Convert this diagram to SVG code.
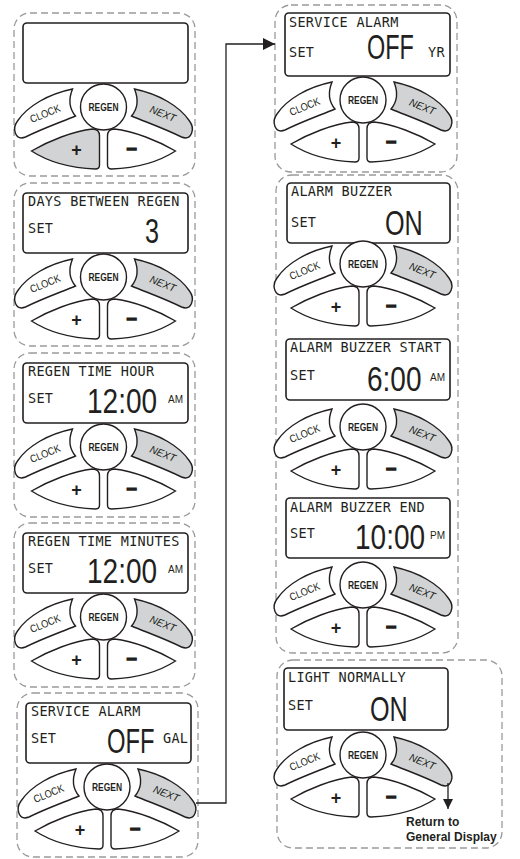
<svg xmlns="http://www.w3.org/2000/svg" width="520" height="859" viewBox="0 0 520 859">
<style>
.frame{fill:none;stroke:#9a9a9a;stroke-width:1.3;stroke-dasharray:7 4}
.disp{fill:#fff;stroke:#231f20;stroke-width:1.6}
.btn{fill:#fff;stroke:#231f20;stroke-width:1.4}
.grey{fill:#d1d3d4}
.lcd{font-family:"DejaVu Sans Mono",monospace;font-size:13.5px;letter-spacing:0.3px;fill:#231f20}
.big{font-family:"Liberation Sans",Arial,sans-serif;font-size:35px;fill:#231f20}
.sm{font-family:"Liberation Sans",Arial,sans-serif;font-size:10px;fill:#231f20}
.regen{font-family:"Liberation Sans",Arial,sans-serif;font-size:11px;font-weight:bold;fill:#231f20}
.clk{font-family:"Liberation Sans",Arial,sans-serif;font-size:10.5px;fill:#231f20}
.nxt{font-family:"Liberation Sans",Arial,sans-serif;font-size:10.5px;font-style:italic;fill:#231f20}
.pm{font-family:"Liberation Sans",Arial,sans-serif;font-size:18px;font-weight:bold;fill:#231f20;text-anchor:middle}
.mn{font-family:"Liberation Sans",Arial,sans-serif;font-size:18px;font-weight:bold;fill:#231f20;stroke:#231f20;stroke-width:1.3;text-anchor:middle}
.conn{fill:none;stroke:#231f20;stroke-width:1.3}
.ret{font-family:"Liberation Sans",Arial,sans-serif;font-size:12px;font-weight:bold;fill:#231f20}
</style>
<defs>
<marker id="ah" viewBox="0 0 12 12" refX="12" refY="6" markerWidth="12" markerHeight="12" markerUnits="userSpaceOnUse" orient="auto">
<path d="M0,0 L12,6 L0,12 Z" fill="#231f20"/>
</marker>
<marker id="ah2" viewBox="0 0 10 10" refX="10" refY="5" markerWidth="10" markerHeight="10" markerUnits="userSpaceOnUse" orient="auto">
<path d="M0,0 L10,5 L0,10 Z" fill="#231f20"/>
</marker>
<path id="clkShape" d="M-31,-18 C-35,-8 -34,2 -28,9 C-45,16 -62,22 -78,30 C-88,34 -92,22 -86,14 C-76,-1 -55,-13 -31,-18 Z"/>
<path id="nxtShape" d="M31,-18 C35,-8 34,2 28,9 C45,16 62,22 78,30 C88,34 92,22 86,14 C76,-1 55,-13 31,-18 Z"/>
<path id="plusShape" d="M-72,44 C-55,34 -30,24 -11,22 Q-4,22 -4,29 L-4,58 Q-4,62 -8,62 C-35,61 -55,55 -72,44 Z"/>
<path id="minusShape" d="M72,44 C55,34 30,24 11,22 Q4,22 4,29 L4,58 Q4,62 8,62 C35,61 55,55 72,44 Z"/>
</defs>

<!-- LEFT COLUMN -->
<g id="panel1">
<rect class="frame" x="14" y="13" width="181" height="163" rx="16"/>
<rect class="disp" x="23" y="23" width="165" height="60" rx="4"/>
<g transform="translate(103.5,107)">
<use href="#clkShape" class="btn"/><use href="#nxtShape" class="btn grey"/><circle class="btn" r="23"/>
<use href="#plusShape" class="btn grey"/><use href="#minusShape" class="btn"/>
<text class="regen" y="4" text-anchor="middle" textLength="30" lengthAdjust="spacingAndGlyphs">REGEN</text>
<text class="clk" transform="translate(-57,10) rotate(-22)" text-anchor="middle" textLength="32" lengthAdjust="spacingAndGlyphs">CLOCK</text>
<text class="nxt" transform="translate(58,10) rotate(22)" text-anchor="middle" textLength="27" lengthAdjust="spacingAndGlyphs">NEXT</text>
<text class="pm" x="-27" y="49">+</text><text class="mn" x="28" y="48">−</text>
</g>
</g>

<g id="panel2">
<rect class="frame" x="14" y="183" width="181" height="163" rx="16"/>
<rect class="disp" x="23" y="193" width="165" height="60" rx="4"/>
<text class="lcd" x="28" y="206">DAYS BETWEEN REGEN</text>
<text class="lcd" x="28" y="233">SET</text>
<text class="big" transform="translate(159,243) scale(0.72,1)" text-anchor="end">3</text>
<g transform="translate(103.5,277)">
<use href="#clkShape" class="btn"/><use href="#nxtShape" class="btn grey"/><circle class="btn" r="23"/>
<use href="#plusShape" class="btn"/><use href="#minusShape" class="btn"/>
<text class="regen" y="4" text-anchor="middle" textLength="30" lengthAdjust="spacingAndGlyphs">REGEN</text>
<text class="clk" transform="translate(-57,10) rotate(-22)" text-anchor="middle" textLength="32" lengthAdjust="spacingAndGlyphs">CLOCK</text>
<text class="nxt" transform="translate(58,10) rotate(22)" text-anchor="middle" textLength="27" lengthAdjust="spacingAndGlyphs">NEXT</text>
<text class="pm" x="-27" y="49">+</text><text class="mn" x="28" y="48">−</text>
</g>
</g>

<g id="panel3">
<rect class="frame" x="14" y="353" width="181" height="164" rx="16"/>
<rect class="disp" x="23" y="363" width="165" height="60" rx="4"/>
<text class="lcd" x="28" y="376">REGEN TIME HOUR</text>
<text class="lcd" x="28" y="403">SET</text>
<text class="big" transform="translate(87,413) scale(0.8,1)">12:00</text>
<text class="sm" x="168" y="403">AM</text>
<g transform="translate(103.5,447)">
<use href="#clkShape" class="btn"/><use href="#nxtShape" class="btn grey"/><circle class="btn" r="23"/>
<use href="#plusShape" class="btn"/><use href="#minusShape" class="btn"/>
<text class="regen" y="4" text-anchor="middle" textLength="30" lengthAdjust="spacingAndGlyphs">REGEN</text>
<text class="clk" transform="translate(-57,10) rotate(-22)" text-anchor="middle" textLength="32" lengthAdjust="spacingAndGlyphs">CLOCK</text>
<text class="nxt" transform="translate(58,10) rotate(22)" text-anchor="middle" textLength="27" lengthAdjust="spacingAndGlyphs">NEXT</text>
<text class="pm" x="-27" y="49">+</text><text class="mn" x="28" y="48">−</text>
</g>
</g>

<g id="panel4">
<rect class="frame" x="14" y="523" width="181" height="164" rx="16"/>
<rect class="disp" x="23" y="533" width="165" height="60" rx="4"/>
<text class="lcd" x="28" y="546">REGEN TIME MINUTES</text>
<text class="lcd" x="28" y="573">SET</text>
<text class="big" transform="translate(87,583) scale(0.8,1)">12:00</text>
<text class="sm" x="168" y="573">AM</text>
<g transform="translate(103.5,617)">
<use href="#clkShape" class="btn"/><use href="#nxtShape" class="btn grey"/><circle class="btn" r="23"/>
<use href="#plusShape" class="btn"/><use href="#minusShape" class="btn"/>
<text class="regen" y="4" text-anchor="middle" textLength="30" lengthAdjust="spacingAndGlyphs">REGEN</text>
<text class="clk" transform="translate(-57,10) rotate(-22)" text-anchor="middle" textLength="32" lengthAdjust="spacingAndGlyphs">CLOCK</text>
<text class="nxt" transform="translate(58,10) rotate(22)" text-anchor="middle" textLength="27" lengthAdjust="spacingAndGlyphs">NEXT</text>
<text class="pm" x="-27" y="49">+</text><text class="mn" x="28" y="48">−</text>
</g>
</g>

<g id="panel5">
<rect class="frame" x="17" y="693" width="181" height="164" rx="16"/>
<rect class="disp" x="26" y="703" width="165" height="60" rx="4"/>
<text class="lcd" x="31" y="716">SERVICE ALARM</text>
<text class="lcd" x="31" y="743">SET</text>
<text class="big" transform="translate(107,753) scale(0.68,1)">OFF</text>
<text class="lcd" x="163" y="743">GAL</text>
<g transform="translate(107,787)">
<use href="#clkShape" class="btn"/><use href="#nxtShape" class="btn grey"/><circle class="btn" r="23"/>
<use href="#plusShape" class="btn"/><use href="#minusShape" class="btn"/>
<text class="regen" y="4" text-anchor="middle" textLength="30" lengthAdjust="spacingAndGlyphs">REGEN</text>
<text class="clk" transform="translate(-57,10) rotate(-22)" text-anchor="middle" textLength="32" lengthAdjust="spacingAndGlyphs">CLOCK</text>
<text class="nxt" transform="translate(58,10) rotate(22)" text-anchor="middle" textLength="27" lengthAdjust="spacingAndGlyphs">NEXT</text>
<text class="pm" x="-27" y="49">+</text><text class="mn" x="28" y="48">−</text>
</g>
</g>

<!-- RIGHT COLUMN -->
<g id="panel6">
<rect class="frame" x="275" y="5" width="182" height="167" rx="16"/>
<rect class="disp" x="285" y="13" width="165" height="63" rx="4"/>
<text class="lcd" x="289" y="27">SERVICE ALARM</text>
<text class="lcd" x="289" y="57">SET</text>
<text class="big" transform="translate(367,59) scale(0.67,1)">OFF</text>
<text class="lcd" x="428" y="57">YR</text>
<g transform="translate(363,100)">
<use href="#clkShape" class="btn"/><use href="#nxtShape" class="btn grey"/><circle class="btn" r="23"/>
<use href="#plusShape" class="btn"/><use href="#minusShape" class="btn"/>
<text class="regen" y="4" text-anchor="middle" textLength="30" lengthAdjust="spacingAndGlyphs">REGEN</text>
<text class="clk" transform="translate(-57,10) rotate(-22)" text-anchor="middle" textLength="32" lengthAdjust="spacingAndGlyphs">CLOCK</text>
<text class="nxt" transform="translate(58,10) rotate(22)" text-anchor="middle" textLength="27" lengthAdjust="spacingAndGlyphs">NEXT</text>
<text class="pm" x="-27" y="49">+</text><text class="mn" x="28" y="48">−</text>
</g>
</g>

<g id="panel7">
<rect class="frame" x="276" y="175" width="182" height="478" rx="16"/>
<g id="alarm-buzzer">
<rect class="disp" x="287" y="183" width="163" height="60" rx="4"/>
<text class="lcd" x="291" y="196">ALARM BUZZER</text>
<text class="lcd" x="291" y="227">SET</text>
<text class="big" transform="translate(385,235) scale(0.72,1)">ON</text>
<g transform="translate(363,264)">
<use href="#clkShape" class="btn"/><use href="#nxtShape" class="btn grey"/><circle class="btn" r="23"/>
<use href="#plusShape" class="btn"/><use href="#minusShape" class="btn"/>
<text class="regen" y="4" text-anchor="middle" textLength="30" lengthAdjust="spacingAndGlyphs">REGEN</text>
<text class="clk" transform="translate(-57,10) rotate(-22)" text-anchor="middle" textLength="32" lengthAdjust="spacingAndGlyphs">CLOCK</text>
<text class="nxt" transform="translate(58,10) rotate(22)" text-anchor="middle" textLength="27" lengthAdjust="spacingAndGlyphs">NEXT</text>
<text class="pm" x="-27" y="49">+</text><text class="mn" x="28" y="48">−</text>
</g>
</g>
<g id="alarm-buzzer-start">
<rect class="disp" x="286" y="339" width="164" height="61" rx="4"/>
<text class="lcd" x="290" y="352">ALARM BUZZER START</text>
<text class="lcd" x="290" y="380">SET</text>
<text class="big" transform="translate(367,391) scale(0.8,1)">6:00</text>
<text class="sm" x="430" y="381">AM</text>
<g transform="translate(363,427)">
<use href="#clkShape" class="btn"/><use href="#nxtShape" class="btn grey"/><circle class="btn" r="23"/>
<use href="#plusShape" class="btn"/><use href="#minusShape" class="btn"/>
<text class="regen" y="4" text-anchor="middle" textLength="30" lengthAdjust="spacingAndGlyphs">REGEN</text>
<text class="clk" transform="translate(-57,10) rotate(-22)" text-anchor="middle" textLength="32" lengthAdjust="spacingAndGlyphs">CLOCK</text>
<text class="nxt" transform="translate(58,10) rotate(22)" text-anchor="middle" textLength="27" lengthAdjust="spacingAndGlyphs">NEXT</text>
<text class="pm" x="-27" y="49">+</text><text class="mn" x="28" y="48">−</text>
</g>
</g>
<g id="alarm-buzzer-end">
<rect class="disp" x="286" y="498" width="164" height="60" rx="4"/>
<text class="lcd" x="290" y="512">ALARM BUZZER END</text>
<text class="lcd" x="290" y="538">SET</text>
<text class="big" transform="translate(355,549) scale(0.8,1)">10:00</text>
<text class="sm" x="430" y="539">PM</text>
<g transform="translate(363,585)">
<use href="#clkShape" class="btn"/><use href="#nxtShape" class="btn grey"/><circle class="btn" r="23"/>
<use href="#plusShape" class="btn"/><use href="#minusShape" class="btn"/>
<text class="regen" y="4" text-anchor="middle" textLength="30" lengthAdjust="spacingAndGlyphs">REGEN</text>
<text class="clk" transform="translate(-57,10) rotate(-22)" text-anchor="middle" textLength="32" lengthAdjust="spacingAndGlyphs">CLOCK</text>
<text class="nxt" transform="translate(58,10) rotate(22)" text-anchor="middle" textLength="27" lengthAdjust="spacingAndGlyphs">NEXT</text>
<text class="pm" x="-27" y="49">+</text><text class="mn" x="28" y="48">−</text>
</g>
</g>
</g>

<g id="panel8">
<rect class="frame" x="277" y="660" width="225" height="188" rx="16"/>
<rect class="disp" x="284" y="668" width="164" height="62" rx="4"/>
<text class="lcd" x="288" y="682">LIGHT NORMALLY</text>
<text class="lcd" x="288" y="710">SET</text>
<text class="big" transform="translate(370,721) scale(0.72,1)">ON</text>
<g transform="translate(363,755)">
<use href="#clkShape" class="btn"/><use href="#nxtShape" class="btn grey"/><circle class="btn" r="23"/>
<use href="#plusShape" class="btn"/><use href="#minusShape" class="btn"/>
<text class="regen" y="4" text-anchor="middle" textLength="30" lengthAdjust="spacingAndGlyphs">REGEN</text>
<text class="clk" transform="translate(-57,10) rotate(-22)" text-anchor="middle" textLength="32" lengthAdjust="spacingAndGlyphs">CLOCK</text>
<text class="nxt" transform="translate(58,10) rotate(22)" text-anchor="middle" textLength="27" lengthAdjust="spacingAndGlyphs">NEXT</text>
<text class="pm" x="-27" y="49">+</text><text class="mn" x="28" y="48">−</text>
</g>
<text class="ret" x="406" y="826">Return to</text>
<text class="ret" x="406" y="841">General Display</text>
</g>

<g id="connectors">
<path class="conn" d="M196,803 H226 V44 H275" marker-end="url(#ah)"/>
<path class="conn" d="M448,783 V809" marker-end="url(#ah2)"/>
</g>
</svg>
